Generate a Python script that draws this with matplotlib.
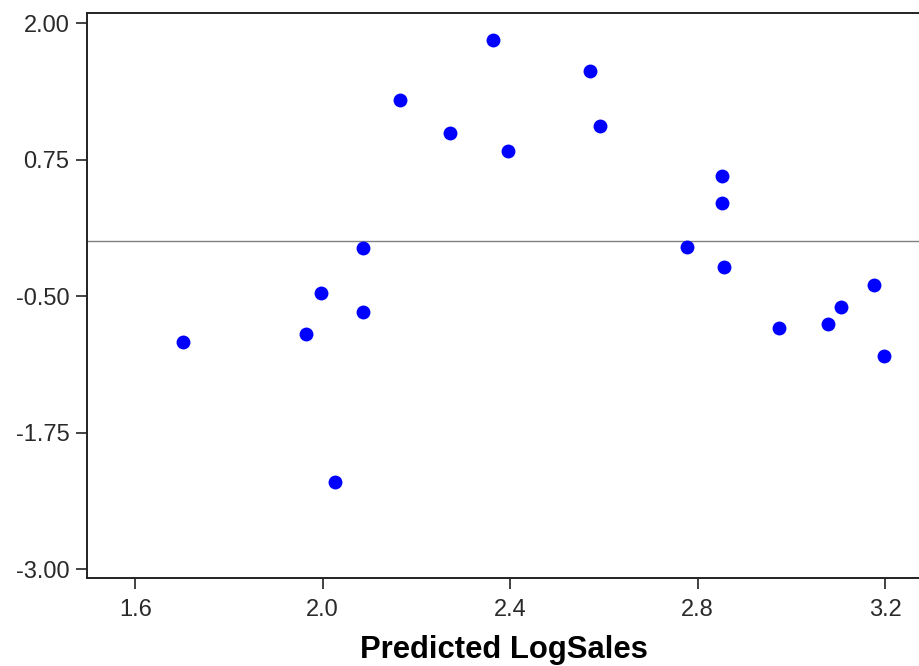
import numpy as np
import matplotlib.pyplot as plt

# Valores: predicho vs residuo
predicted = [1.702, 1.964, 1.997, 2.026, 2.085, 2.085, 2.164, 2.272, 2.363,
             2.396, 2.570, 2.592, 2.778, 2.853, 2.853, 2.857, 2.974, 3.078,
             3.106, 3.177, 3.198]
residual = [-0.921, -0.848, -0.473, -2.206, -0.063, -0.649, 1.295, 0.990, 1.844,
            0.831, 1.560, 1.060, -0.049, 0.599, 0.349, -0.237, -0.796, -0.759,
            -0.598, -0.402, -1.047]

xticks = [1.6, 2.0, 2.4, 2.8, 3.2]
yticks = [2.00, 0.75, -0.50, -1.75, -3.00]

plt.rcParams['font.family'] = ['Liberation Sans', 'DejaVu Sans']

fig = plt.figure(figsize=(9.2, 6.66), dpi=100)
ax = fig.add_axes([0.0949, 0.1317, 0.9051, 0.8483])

# Línea de referencia en cero
ax.axhline(0, color='#808080', linewidth=1.0, zorder=1)

ax.plot(predicted, residual, 'o', color='#0000ff', markersize=10,
        markeredgewidth=0, zorder=3)

ax.set_xlim(1.4977, 3.2747)
ax.set_ylim(-3.085, 2.089)
ax.set_xticks(xticks)
ax.set_xticklabels([f'{v:.1f}' for v in xticks])
ax.set_yticks(yticks)
ax.set_yticklabels([f'{v:.2f}' for v in yticks])

ax.tick_params(axis='both', direction='out', length=8, width=1.2,
               color='#222222', labelsize=17, labelcolor='#2a2a2a')
ax.tick_params(axis='x', pad=7)
ax.tick_params(axis='y', pad=5)

for side in ['left', 'top', 'bottom']:
    ax.spines[side].set_linewidth(1.4)
    ax.spines[side].set_color('#222222')
ax.spines['right'].set_visible(False)

ax.set_xlabel('Predicted LogSales', fontsize=22.3, fontweight='bold', labelpad=10)

plt.savefig('out.png', dpi=100)
